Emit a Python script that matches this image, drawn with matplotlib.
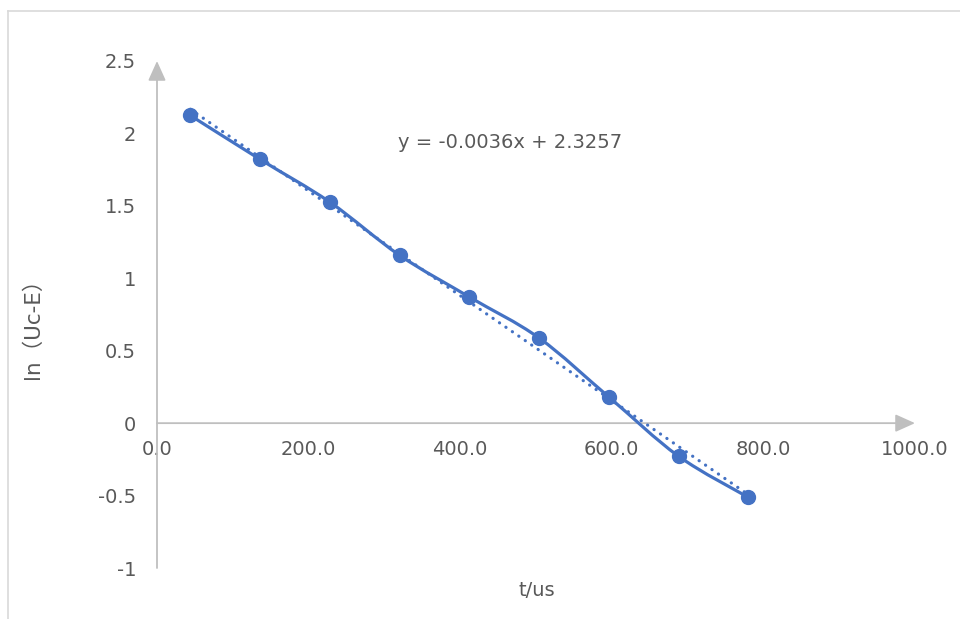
import numpy as np
import matplotlib.pyplot as plt
from matplotlib.path import Path
from matplotlib.patches import PathPatch, ArrowStyle
from matplotlib.lines import Line2D

plt.rcParams['font.family'] = ['DejaVu Sans', 'Noto Sans CJK SC']

# data
t_us = [44, 136, 228, 320, 412, 504, 596, 688, 780]
ln_uc = [2.124, 1.821, 1.526, 1.159, 0.871, 0.588, 0.181, -0.228, -0.512]
x_ticks = [0, 200, 400, 600, 800, 1000]
y_ticks = [-1, -0.5, 0, 0.5, 1, 1.5, 2, 2.5]
y_tick_labels = ['-1', '-0.5', '0', '0.5', '1', '1.5', '2', '2.5']
eq_text = 'y = -0.0036x + 2.3257'

blue = '#4472C4'
grey_axis = '#BFBFBF'
grey_text = '#595959'
fs = 14

W, H = 960, 619
fig = plt.figure(figsize=(W / 100, H / 100), dpi=100)
ax = fig.add_axes([157 / W, (H - 568) / H, 758 / W, (568 - 61) / H])
ax.set_xlim(0, 1000)
ax.set_ylim(-1, 2.5)

# axes: gray lines with arrow heads, x axis sits at y=0
for s in ['top', 'right']:
    ax.spines[s].set_visible(False)
ax.spines['bottom'].set_position(('data', 0))
ax.spines['bottom'].set_visible(False)
ax.spines['left'].set_visible(False)
head = ArrowStyle('-|>', head_length=0.6, head_width=0.27)
ax.annotate('', xy=(1000, 0), xytext=(0, 0), annotation_clip=False,
            arrowprops=dict(arrowstyle=head, color=grey_axis, lw=1.3,
                            mutation_scale=20, shrinkA=0, shrinkB=0))
ax.annotate('', xy=(0, 2.5), xytext=(0, -1), annotation_clip=False,
            arrowprops=dict(arrowstyle=head, color=grey_axis, lw=1.3,
                            mutation_scale=20, shrinkA=0, shrinkB=0))

ax.set_xticks(x_ticks)
ax.set_xticklabels(['%.1f' % v for v in x_ticks])
ax.set_yticks(y_ticks)
ax.set_yticklabels(y_tick_labels)
ax.tick_params(axis='x', length=0, pad=12, labelsize=fs, labelcolor=grey_text)
ax.tick_params(axis='y', length=0, pad=15, labelsize=fs, labelcolor=grey_text)

# smoothed series line (Excel style bezier through the points)
pts = np.column_stack([t_us, ln_uc]).astype(float)
n = len(pts)
verts = [pts[0]]
codes = [Path.MOVETO]
for i in range(n - 1):
    p0 = pts[max(i - 1, 0)]
    p1 = pts[i]
    p2 = pts[i + 1]
    p3 = pts[min(i + 2, n - 1)]
    verts += [p1 + (p2 - p0) / 6, p2 - (p3 - p1) / 6, p2]
    codes += [Path.CURVE4] * 3
ax.add_patch(PathPatch(Path(verts, codes), fill=False, edgecolor=blue,
                       lw=2.3, capstyle='round', joinstyle='round', zorder=3))

# linear trendline, dotted
k, b = np.polyfit(t_us, ln_uc, 1)
tx = np.array([t_us[0], t_us[-1]])
ax.plot(tx, k * tx + b, color=blue, lw=2.3, linestyle=(0, (0.05, 2.4)),
        dash_capstyle='round', zorder=4)

ax.plot(t_us, ln_uc, 'o', color=blue, markersize=10, zorder=5)

fig.text(398 / W, 1 - 142 / H, eq_text, fontsize=fs, color=grey_text,
         ha='left', va='center')
fig.text(537 / W, 1 - 590 / H, 't/us', fontsize=fs, color=grey_text,
         ha='center', va='center')
fig.text(33 / W, 1 - 323 / H, 'ln（Uc-E）', fontsize=15.5, color=grey_text,
         ha='center', va='center', rotation=90)

# chart area border (only top and left edges are in the picture)
fig.add_artist(Line2D([8 / W, 8 / W], [0, 1 - 11 / H], color='#D9D9D9', lw=1.2))
fig.add_artist(Line2D([8 / W, 1], [1 - 11 / H, 1 - 11 / H], color='#D9D9D9', lw=1.2))

fig.savefig('out.png', dpi=100)
